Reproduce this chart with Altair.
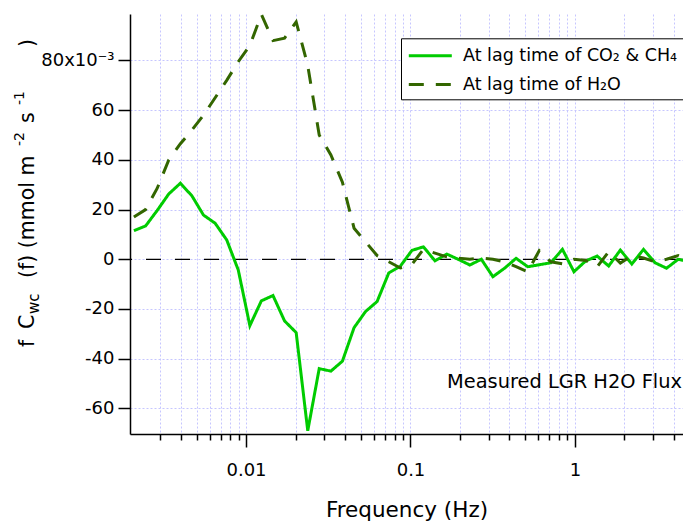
import altair as alt
import pandas as pd

# ---------------- data ----------------
freq = [0.00208, 0.00245, 0.00288, 0.00339, 0.00399, 0.00469, 0.00551, 0.00649,
        0.00763, 0.00897, 0.01055, 0.0124, 0.01459, 0.01715, 0.02018, 0.02373,
        0.02786, 0.03281, 0.03855, 0.04539, 0.05333, 0.06266, 0.07379, 0.0867,
        0.1021, 0.1199, 0.1409, 0.166, 0.195, 0.2296, 0.2698, 0.317, 0.3733,
        0.4385, 0.5164, 0.6067, 0.7129, 0.8395, 0.9863, 1.161, 1.365, 1.603,
        1.888, 2.218, 2.612, 3.069, 3.606, 4.246, 4.989]

co2_ch4_lag = [11.5, 13.4, 19.6, 26.3, 30.6, 25.5, 17.8, 14.5, 7.8, -4.3, -26.7,
               -16.7, -14.6, -24.8, -29.5, -69.0, -44.0, -45.0, -41.0, -27.5,
               -21.0, -17.0, -5.5, -2.8, 3.6, 5.0, -0.6, 2.1, 0.0, -2.3, 0.0,
               -7.0, -3.6, 0.4, -3.0, -2.2, -1.4, 4.0, -5.0, -0.7, 1.3, -2.7,
               3.7, -1.9, 4.0, -1.4, -3.6, 0.0, -1.0]

h2o_lag = [17.0, 20.0, 28.5, 40.0, 46.5, 52.0, 58.0, 65.0, 72.0, 79.5, 86.0, 98.5,
           88.0, 89.0, 95.5, 78.0, 50.0, 42.0, 31.0, 12.5, 7.0, 1.5, -1.0, -3.5,
           -2.0, 4.0, 2.5, 1.0, 0.5, 0.0, 0.5, 0.0, -1.0, -3.0, -5.0, 3.5, -1.0,
           -1.8, 0.0, -0.5, -3.0, 3.0, -1.5, 1.5, 0.5, -1.0, 0.0, 1.5, -0.5]

series_names = ["At lag time of CO₂ & CH₄", "At lag time of H₂O"]
series_colors = ["#00CC00", "#336600"]

x_major = [0.01, 0.1, 1]
x_minor = [0.003, 0.004, 0.005, 0.006, 0.007, 0.008, 0.009,
           0.02, 0.03, 0.04, 0.05, 0.06, 0.07, 0.08, 0.09,
           0.2, 0.3, 0.4, 0.5, 0.6, 0.7, 0.8, 0.9,
           2, 3, 4]
y_ticks = [-60, -40, -20, 0, 20, 40, 60, 80]

annotation = "Measured LGR H2O Flux"
x_title = "Frequency (Hz)"
# y title pieces: (text, role, start position along the axis in px from plot top)
y_title_parts = [("f", "normal", 333), ("C", "normal", 315), ("wc", "sub", 300),
                 ("(f) (mmol m", "normal", 264), ("-2", "sup", 132),
                 ("s", "normal", 109), ("-1", "sup", 91), (")", "normal", 33)]

FONT = "DejaVu Sans"

# ---------------- build table ----------------
rows = []
for f, a, b in zip(freq, co2_ch4_lag, h2o_lag):
    rows.append({"freq": f, "value": a, "series": series_names[0]})
    rows.append({"freq": f, "value": b, "series": series_names[1]})
df = pd.DataFrame(rows)

x_scale = alt.Scale(type="log", domain=[0.00197, 4.54], nice=False)
y_scale = alt.Scale(domain=[-70.3, 98.7], nice=False, zero=False)

major_test = "datum.value == 0.01 || datum.value == 0.1 || datum.value == 1"

x_axis = alt.Axis(
    values=sorted(x_major + x_minor),
    labelExpr="datum.value == 0.01 ? '0.01' : datum.value == 0.1 ? '0.1' : datum.value == 1 ? '1' : ''",
    tickSize={"condition": {"test": major_test, "value": 13}, "value": 6},
    tickColor="black", tickWidth=1.5,
    domainColor="black", domainWidth=1.5,
    grid=True, gridColor="#c6c6ff", gridDash=[2, 2], gridWidth=1,
    labelFont=FONT, labelFontSize=18, labelColor="black", labelPadding=14,
    labelOverlap=False, labelFlush=False,
    title=x_title, titleFont=FONT, titleFontSize=21.5, titleFontWeight="normal",
    titleColor="black", titlePadding=20,
)

y_axis = alt.Axis(
    values=y_ticks,
    labelExpr="datum.value == 80 ? '80x10⁻³' : '' + datum.value",
    tickSize=12, tickColor="black", tickWidth=1.5,
    domainColor="black", domainWidth=1.5,
    grid=True, gridColor="#c6c6ff", gridDash=[2, 2], gridWidth=1,
    labelFont=FONT, labelFontSize=18, labelColor="black", labelPadding=4,
    title=None,
)

leg = alt.Legend(
    title=None, orient="none", legendX=271, legendY=24.3, direction="vertical",
    fillColor="white", strokeColor="black", padding=6,
    labelFont=FONT, labelFontSize=17.5, labelColor="black", labelLimit=0,
    labelOffset=33, symbolType="M-0.97,0H3.33", symbolSize=400,
    symbolStrokeWidth=3, rowPadding=8.8,
)

zero_line = alt.Chart(alt.Data(values=[{}])).mark_rule(
    color="black", strokeDash=[15, 14], strokeWidth=1.3
).encode(y=alt.datum(0, scale=y_scale))

lines = alt.Chart(df).mark_line(strokeWidth=3, clip=True).encode(
    x=alt.X("freq:Q", scale=x_scale, axis=x_axis),
    y=alt.Y("value:Q", scale=y_scale, axis=y_axis),
    color=alt.Color("series:N", scale=alt.Scale(domain=series_names, range=series_colors), legend=leg),
    strokeDash=alt.StrokeDash("series:N", scale=alt.Scale(domain=series_names, range=[[1, 0], [15, 12]]), legend=leg),
)

note = alt.Chart(alt.Data(values=[{}])).mark_text(
    text=annotation, align="right", baseline="middle", font=FONT, fontSize=19.4, color="black"
).encode(x=alt.value(552), y=alt.value(367.5))

layers = [zero_line, lines, note]
for txt, role, s in y_title_parts:
    size = 20.5 if role == "normal" else (15 if role == "sub" else 14)
    bx = -96 if role == "normal" else (-91 if role == "sub" else -106)
    layers.append(
        alt.Chart(alt.Data(values=[{}])).mark_text(
            text=txt, angle=270, align="left", baseline="alphabetic",
            font=FONT, fontSize=size, color="black"
        ).encode(x=alt.value(bx), y=alt.value(s))
    )

chart = alt.layer(*layers).properties(
    width=553, height=420,
    autosize=alt.AutoSizeParams(type="none"),
    padding={"left": 122, "top": 6, "right": 0, "bottom": 90},
).configure_view(stroke=None)

chart.save("out.html", embed_options={"renderer": "svg", "actions": False})
